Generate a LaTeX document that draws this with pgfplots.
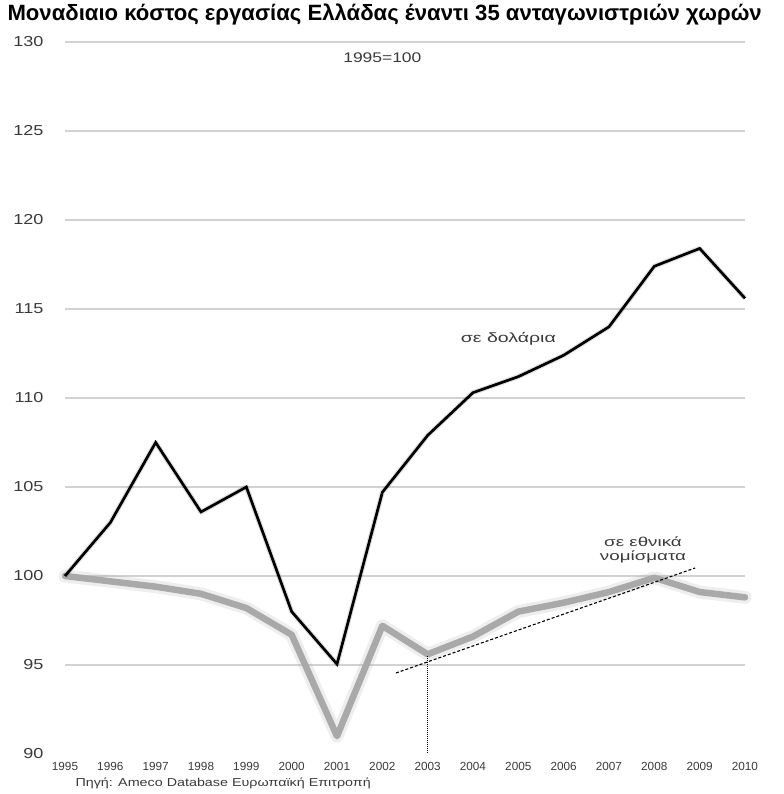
\documentclass[border=0pt]{standalone}
\usepackage{pgfplots}
\pgfplotsset{compat=1.18}
\usepackage{fontspec}
\setmainfont{Liberation Sans}
\newfontfamily\ylabfont[FakeStretch=1.25]{Liberation Sans}
\newfontfamily\widefont[FakeStretch=1.45]{Liberation Sans}
\definecolor{gridc}{HTML}{D2D2D2}
\definecolor{txt}{HTML}{3A3A3A}
\definecolor{grayline}{HTML}{A9A9A9}
\begin{document}
\begin{tikzpicture}[x=1bp,y=1bp]
\path (-65,-40) rectangle (719,754);
\begin{axis}[
  at={(0,0)}, anchor=south west,
  scale only axis, width=680bp, height=712bp,
  xmin=1995, xmax=2010, ymin=90, ymax=130,
  clip=false,
  axis line style={draw=none},
  xtick={1995,...,2010},
  ytick={95,100,...,130},
  extra y ticks={90}, extra y tick style={ymajorgrids=false},
  ymajorgrids, major grid style={gridc, line width=1.5bp},
  major tick length=0pt,
  /pgf/number format/assume math mode=true,
  xticklabel style={font=\fontsize{11.8}{12}\selectfont, text=txt, /pgf/number format/1000 sep={}, yshift=-5bp},
  yticklabel style={font=\ylabfont\fontsize{14.5}{15}\selectfont, text=txt, anchor=east, xshift=-18bp},
]
% national currencies (blurred grey)
\addplot[line width=13bp, grayline, opacity=0.2, line join=round, line cap=round] coordinates {
(1995,100) (1996,99.7) (1997,99.4) (1998,99.0) (1999,98.2) (2000,96.7) (2001,91.0) (2002,97.2)
(2003,95.6) (2004,96.6) (2005,98.0) (2006,98.5) (2007,99.1) (2008,99.9) (2009,99.1) (2010,98.8)};
\addplot[line width=6.5bp, grayline, line join=round, line cap=round] coordinates {
(1995,100) (1996,99.7) (1997,99.4) (1998,99.0) (1999,98.2) (2000,96.7) (2001,91.0) (2002,97.2)
(2003,95.6) (2004,96.6) (2005,98.0) (2006,98.5) (2007,99.1) (2008,99.9) (2009,99.1) (2010,98.8)};
% dollars
\addplot[line width=5bp, black, opacity=0.12, line join=round] coordinates {
(1995,100) (1996,103.0) (1997,107.5) (1998,103.6) (1999,105.0) (2000,98.0) (2001,95.05) (2002,104.7)
(2003,107.9) (2004,110.3) (2005,111.2) (2006,112.4) (2007,114.0) (2008,117.4) (2009,118.4) (2010,115.6)};
\addplot[line width=2.7bp, black, line join=miter] coordinates {
(1995,100) (1996,103.0) (1997,107.5) (1998,103.6) (1999,105.0) (2000,98.0) (2001,95.05) (2002,104.7)
(2003,107.9) (2004,110.3) (2005,111.2) (2006,112.4) (2007,114.0) (2008,117.4) (2009,118.4) (2010,115.6)};
% trend and marker
\addplot[black, line width=1.1bp, dash pattern=on 3bp off 2bp] coordinates {(2002.3,94.55) (2008.9,100.45)};
\addplot[black, line width=1.1bp, dash pattern=on 1bp off 1bp] coordinates {(2003,95.5) (2003,90)};
\node[font=\widefont\fontsize{13.5}{14}\selectfont, text=txt] at (axis cs:2004.78,113.3) {σε δολάρια};
\node[font=\widefont\fontsize{13}{14}\selectfont, text=txt, align=center] at (axis cs:2007.75,101.45) {σε εθνικά\\νομίσματα};
\node[font=\ylabfont\fontsize{14}{15}\selectfont, text=txt] at (axis cs:2002.0,129.1) {1995=100};
\end{axis}
\node[anchor=west, font=\bfseries\fontsize{22.2}{26}\selectfont] at (-61,739) {Μοναδιαιο κόστος εργασίας Ελλάδας έναντι 35 ανταγωνιστριών χωρών};
\node[anchor=west, font=\ylabfont\fontsize{11.5}{12}\selectfont, text=txt] at (7,-29) {Πηγή: Ameco Database Ευρωπαϊκή Επιτροπή};
\end{tikzpicture}
\end{document}
